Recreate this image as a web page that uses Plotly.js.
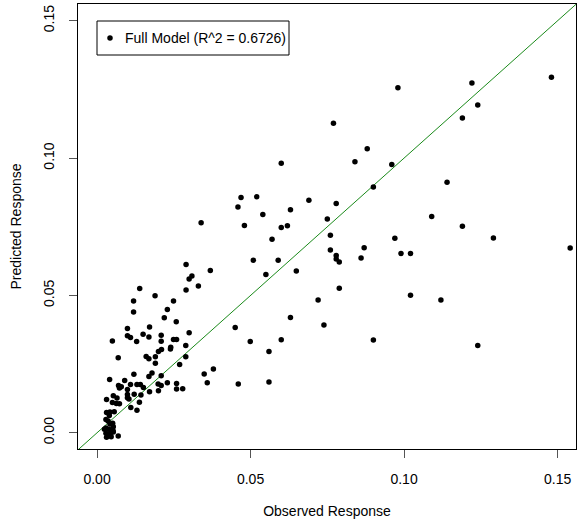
<!DOCTYPE html>
<html>
<head>
<meta charset="utf-8">
<script src="https://cdn.plot.ly/plotly-3.0.1.min.js"></script>
<style>html,body{margin:0;padding:0;background:#fff;}#chart{width:580px;height:524px;}</style>
</head>
<body>
<div id="chart"></div>
<script>
// Observed vs predicted response values
const observed = [
  0.0980,0.1221,0.1480,0.1240,0.1190,0.0960,0.1140,0.1090,0.1190,0.0970,
  0.1291,0.1541,0.0990,0.1021,0.1021,0.1120,0.1240,
  0.0770,0.0880,0.0840,0.0600,0.0900,0.0690,0.0779,0.0630,0.0750,0.0600,
  0.0620,0.0760,0.0760,0.0870,0.0779,0.0779,0.0789,0.0860,0.0649,0.0789,
  0.0720,0.0630,0.0739,0.0600,0.0900,0.0590,0.0469,0.0520,0.0459,0.0540,
  0.0339,0.0480,0.0570,0.0509,0.0290,0.0369,0.0309,0.0300,0.0550,0.0330,
  0.0290,0.0189,0.0249,0.0229,0.0219,0.0258,0.0171,0.0450,0.0499,0.0560,
  0.0349,0.0379,0.0359,0.0460,0.0560,0.0139,0.0119,0.0119,0.0099,0.0150,
  0.0099,0.0109,0.0129,0.0169,0.0209,0.0209,0.0249,0.0259,0.0300,0.0050,
  0.0240,0.0239,0.0289,0.0210,0.0200,0.0069,0.0160,0.0169,0.0190,0.0190,
  0.0289,0.0269,0.0120,0.0179,0.0169,0.0209,0.0041,0.0090,0.0070,0.0079,
  0.0073,0.0109,0.0130,0.0141,0.0151,0.0171,0.0199,0.0209,0.0229,0.0259,
  0.0259,0.0279,0.0200,0.0099,0.0099,0.0099,0.0121,0.0143,0.0053,0.0065,
  0.0031,0.0104,0.0138,0.0050,0.0063,0.0073,0.0110,0.0130,0.0031,0.0042,
  0.0056,0.0040,0.0069,0.0029,0.0042,0.0051,0.0029,0.0053,0.0039,0.0052,
  0.0029,0.0037,0.0053,0.0044,0.0031,0.0046,0.0024,0.0036
];
const predicted = [
  0.1256,0.1273,0.1294,0.1193,0.1146,0.0977,0.0912,0.0787,0.0752,0.0708,
  0.0709,0.0673,0.0653,0.0653,0.0501,0.0483,0.0318,
  0.1127,0.1034,0.0987,0.0981,0.0895,0.0847,0.0835,0.0812,0.0778,0.0747,
  0.0754,0.0719,0.0665,0.0674,0.0645,0.0633,0.0622,0.0636,0.0589,0.0526,
  0.0483,0.0420,0.0392,0.0339,0.0338,0.0628,0.0857,0.0859,0.0822,0.0795,
  0.0765,0.0755,0.0705,0.0628,0.0613,0.0591,0.0571,0.0560,0.0576,0.0534,
  0.0520,0.0499,0.0480,0.0449,0.0419,0.0404,0.0385,0.0383,0.0332,0.0296,
  0.0214,0.0232,0.0182,0.0178,0.0185,0.0525,0.0480,0.0440,0.0380,0.0359,
  0.0353,0.0347,0.0332,0.0349,0.0355,0.0333,0.0340,0.0340,0.0364,0.0334,
  0.0311,0.0305,0.0318,0.0303,0.0296,0.0273,0.0278,0.0270,0.0277,0.0253,
  0.0277,0.0249,0.0213,0.0218,0.0205,0.0208,0.0194,0.0190,0.0172,0.0168,
  0.0163,0.0176,0.0176,0.0176,0.0165,0.0149,0.0178,0.0172,0.0182,0.0179,
  0.0159,0.0160,0.0153,0.0158,0.0139,0.0128,0.0140,0.0138,0.0135,0.0127,
  0.0121,0.0123,0.0111,0.0110,0.0107,0.0106,0.0092,0.0082,0.0074,0.0076,
  0.0077,0.0063,-0.0012,0.0048,0.0032,0.0035,0.0017,0.0022,0.0013,0.0008,
  -0.0002,-0.0008,0.0003,-0.0001,-0.0016,-0.0014,0.0013,0.0043
];
// Reference line y = x (intercept 0, slope 1)
const refLineX = [-0.02, 0.2];
const refLineY = [-0.02, 0.2];
const tickVals = [0, 0.05, 0.10, 0.15];
const tickText = ["0.00", "0.05", "0.10", "0.15"];
const legendLabel = "Full Model (R^2 = 0.6726)";

const FONT = "Liberation Sans, Arial, Helvetica, sans-serif";

const traces = [
  {x: refLineX, y: refLineY, mode: "lines", type: "scatter",
   line: {color: "#1a8a1a", width: 1}, hoverinfo: "skip", showlegend: false},
  {x: observed, y: predicted, mode: "markers", type: "scatter",
   marker: {color: "#000", size: 5.5}, name: legendLabel, showlegend: false}
];

const axisCommon = {
  showgrid: false, zeroline: false, showline: true, mirror: true,
  linecolor: "#000", linewidth: 1,
  ticks: "outside", ticklen: 8, tickwidth: 1, tickcolor: "#555",
  tickvals: tickVals, ticktext: tickText,
  tickfont: {family: FONT, size: 14, color: "#000"}
};

const layout = {
  width: 580, height: 524,
  margin: {l: 78, r: 4, t: 4, b: 75},
  paper_bgcolor: "#fff", plot_bgcolor: "#fff",
  font: {family: FONT, size: 14, color: "#000"},
  xaxis: Object.assign({}, axisCommon, {
    range: [-0.0062, 0.1560],
    ticklabelstandoff: 9,
    title: {text: "Observed Response", font: {family: FONT, size: 14}, standoff: 20}
  }),
  yaxis: Object.assign({}, axisCommon, {
    range: [-0.0059, 0.1561],
    tickangle: -90,
    ticklabelstandoff: 9,
    title: {text: "Predicted Response", font: {family: FONT, size: 14}, standoff: 16}
  }),
  shapes: [
    {type: "rect", xref: "paper", yref: "paper",
     x0: (97 - 78) / 498, x1: (289 - 78) / 498,
     y0: (449 - 55) / 445, y1: (449 - 21) / 445,
     line: {color: "#000", width: 1}, fillcolor: "#fff", layer: "above"},
    {type: "circle", xref: "paper", yref: "paper",
     xsizemode: "pixel", ysizemode: "pixel",
     xanchor: (110 - 78) / 498, yanchor: (449 - 38) / 445,
     x0: -2.75, x1: 2.75, y0: -2.75, y1: 2.75,
     fillcolor: "#000", line: {color: "#000", width: 0}, layer: "above"}
  ],
  annotations: [
    {xref: "paper", yref: "paper", x: (123 - 78) / 498, y: (449 - 38) / 445,
     xanchor: "left", yanchor: "middle", showarrow: false,
     text: legendLabel, font: {family: FONT, size: 14, color: "#000"}}
  ],
  showlegend: false
};

Plotly.newPlot("chart", traces, layout, {displayModeBar: false, staticPlot: true});
</script>
</body>
</html>
